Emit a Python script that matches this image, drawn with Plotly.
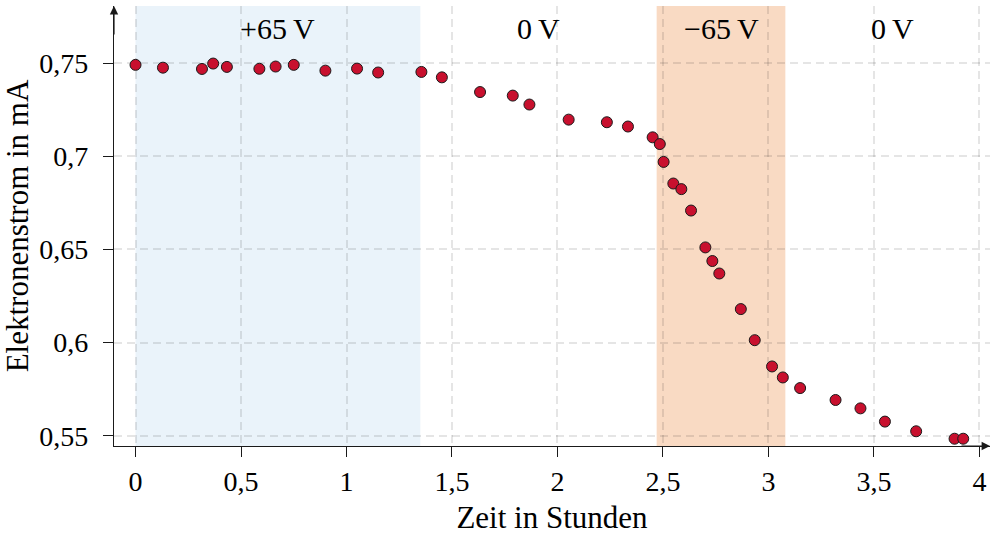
import plotly.graph_objects as go

# Messreihe: Zeit (h) und Elektronenstrom (mA)
zeit_h = [0.0, 0.13, 0.315, 0.368, 0.433, 0.587, 0.664, 0.75, 0.90, 1.05,
          1.15, 1.355, 1.452, 1.633, 1.788, 1.867, 2.053, 2.234, 2.334, 2.451,
          2.485, 2.503, 2.549, 2.587, 2.633, 2.701, 2.734, 2.767, 2.869, 2.935,
          3.017, 3.068, 3.15, 3.318, 3.436, 3.552, 3.70, 3.882, 3.923]
strom_mA = [0.7491, 0.7476, 0.7469, 0.7498, 0.7480, 0.7470, 0.7482, 0.7491, 0.7460, 0.7471,
            0.7450, 0.7453, 0.7424, 0.7345, 0.7326, 0.7278, 0.7197, 0.7183, 0.7160, 0.7102,
            0.7066, 0.6970, 0.6854, 0.6824, 0.6709, 0.6511, 0.6438, 0.6371, 0.6180, 0.6013,
            0.5872, 0.5813, 0.5756, 0.5692, 0.5647, 0.5576, 0.5524, 0.5484, 0.5484]

# Spannungsphasen: Grenzen (h), Beschriftung, Hintergrundfarbe
phasen_grenzen = [0.0, 1.35, 2.47, 3.08, 4.1]
phasen_text = ["+65\u2009V", "0\u2009V", "\u221265\u2009V", "0\u2009V"]
phasen_farbe = ["#EAF3FA", None, "#F9DAC3", None]

x_ticks = [0, 0.5, 1, 1.5, 2, 2.5, 3, 3.5, 4]
x_ticktext = ["0", "0,5", "1", "1,5", "2", "2,5", "3", "3,5", "4"]
y_ticks = [0.55, 0.6, 0.65, 0.7, 0.75]
y_ticktext = ["0,55", "0,6", "0,65", "0,7", "0,75"]

FONT = "Liberation Serif"
AXIS_COLOR = "#1a1a1a"
GRID_COLOR = "rgba(0,0,0,0.10)"

fig = go.Figure()

fig.add_trace(go.Scatter(
    x=zeit_h, y=strom_mA, mode="markers",
    marker=dict(size=11, color="#C8102E", line=dict(color="#1a1a1a", width=1)),
    showlegend=False, hoverinfo="x+y",
))

shapes = []
annotations = []
for i, text in enumerate(phasen_text):
    x0, x1 = phasen_grenzen[i], phasen_grenzen[i + 1]
    if phasen_farbe[i]:
        shapes.append(dict(type="rect", xref="x", yref="paper", x0=x0, x1=x1, y0=0, y1=1,
                           fillcolor=phasen_farbe[i], line=dict(width=0), layer="below"))
    annotations.append(dict(x=(x0 + x1) / 2, y=0.95, xref="x", yref="paper", text=text,
                            showarrow=False, font=dict(family=FONT, size=30, color="black"),
                            xanchor="center", yanchor="middle"))

# Pfeilspitzen an den Achsenenden
annotations.append(dict(x=0, y=1.0, xref="paper", yref="paper", ax=0, ay=30,
                        axref="pixel", ayref="pixel", text="", showarrow=True,
                        arrowhead=2, arrowsize=1.4, arrowwidth=1.2, arrowcolor=AXIS_COLOR,
                        standoff=0, startstandoff=0))
annotations.append(dict(x=1.0, y=0, xref="paper", yref="paper", ax=-30, ay=0,
                        axref="pixel", ayref="pixel", text="", showarrow=True,
                        arrowhead=2, arrowsize=1.4, arrowwidth=1.2, arrowcolor=AXIS_COLOR,
                        standoff=0, startstandoff=0))

fig.update_layout(
    width=992, height=535,
    margin=dict(l=114, r=2, t=6, b=89),
    paper_bgcolor="white", plot_bgcolor="white",
    font=dict(family=FONT, size=28, color="black"),
    shapes=shapes, annotations=annotations,
    xaxis=dict(
        range=[-0.102, 4.05], tickvals=x_ticks, ticktext=x_ticktext,
        showline=True, linecolor=AXIS_COLOR, linewidth=1.2,
        ticks="outside", ticklen=10, tickwidth=1.2, tickcolor=AXIS_COLOR,
        showgrid=True, gridcolor=GRID_COLOR, gridwidth=1.5, griddash="8px,5px",
        zeroline=False, ticklabelstandoff=0, automargin=False,
        title=dict(text="Zeit in Stunden", font=dict(family=FONT, size=31), standoff=14),
    ),
    yaxis=dict(
        range=[0.5445, 0.7807], tickvals=y_ticks, ticktext=y_ticktext,
        showline=True, linecolor=AXIS_COLOR, linewidth=1.2,
        ticks="outside", ticklen=10, tickwidth=1.2, tickcolor=AXIS_COLOR,
        showgrid=True, gridcolor=GRID_COLOR, gridwidth=1.5, griddash="8px,5px",
        zeroline=False, ticklabelstandoff=9, automargin=False,
        title=dict(text="Elektronenstrom in mA", font=dict(family=FONT, size=31), standoff=2),
    ),
)

fig.write_html("out.html")
